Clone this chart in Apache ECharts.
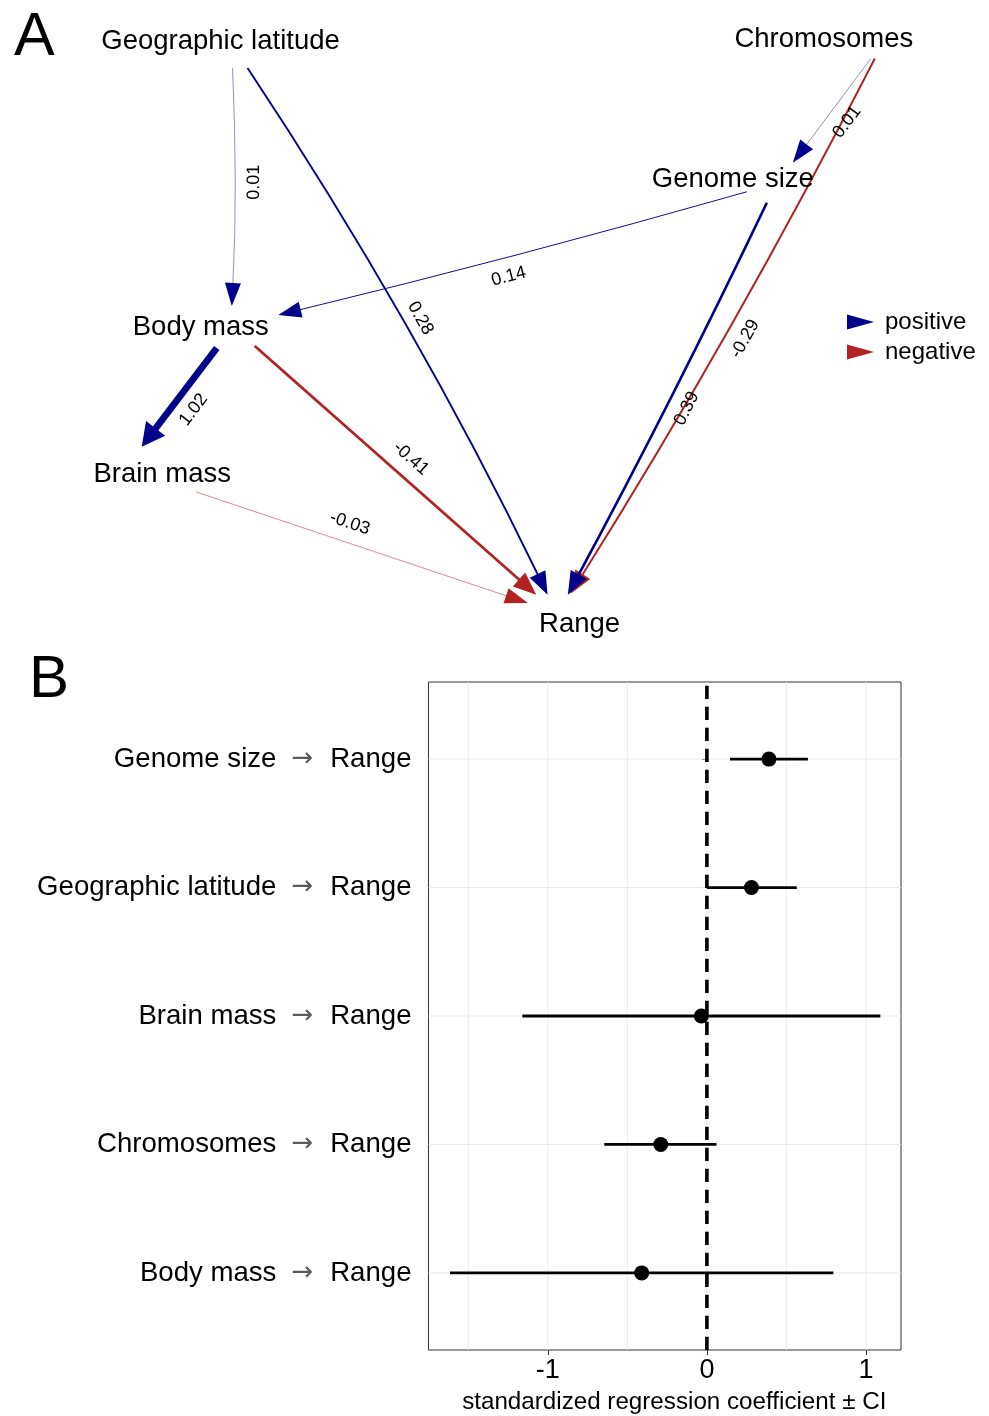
<!DOCTYPE html>
<html><head><meta charset="utf-8">
<script src="https://cdn.jsdelivr.net/npm/echarts@6/dist/echarts.min.js"></script>
<style>html,body{margin:0;padding:0;background:#fff}#c{width:989px;height:1416px}</style>
</head><body><div id="c"></div>
<script>
// ---------- Panel A data ----------
const nodeNames = ['Geographic latitude', 'Chromosomes', 'Genome size', 'Body mass', 'Brain mass', 'Range'];
const edgeFrom = [0, 0, 1, 1, 2, 2, 3, 3, 4];
const edgeTo = [3, 5, 2, 5, 3, 5, 4, 5, 5];
const edgeWeight = [0.01, 0.28, 0.01, -0.29, 0.14, 0.39, 1.02, -0.41, -0.03];
const legendNames = ['positive', 'negative'];

// ---------- Panel B data ----------
const pathSources = ['Genome size', 'Geographic latitude', 'Brain mass', 'Chromosomes', 'Body mass'];
const pathTarget = 'Range';
const estimate = [0.39, 0.28, -0.035, -0.29, -0.41];
const ciLow = [0.145, 0.0, -1.16, -0.645, -1.615];
const ciHigh = [0.635, 0.565, 1.09, 0.06, 0.795];
const xTickValues = [-1, 0, 1];
const xGridValues = [-1.5, -1, -0.5, 0, 0.5, 1];
const yTickValues = [1, 2, 3, 4, 5];

// ---------- layout / style (not data) ----------
// node layout in abstract layout units (0..100 each way, y up)
const nodeLayout = [[22.3, 93.9], [83.3, 94.3], [74.1, 72.3], [20.3, 49.3], [16.4, 26.3], [58.6, 2.9]];
// edge attachment offsets (px, from the node label centre), bend ratio, label position
const edgeStyle = [
  {from: [12, 29], to: [31, -18.5], bend: 0.012, t: 0.48},
  {from: [27, 29], to: [-32, -26.7], bend: 0.017, t: 0.5, off: 16},
  {from: [47, 22], to: [60, -14.5], bend: 0, t: 0.5},
  {from: [51, 22], to: [-9, -27.7], bend: 0.011, t: 0.5},
  {from: [14, 14.5], to: [77.5, -9.5], bend: 0.005, t: 0.52},
  {from: [34, 25.5], to: [-11.7, -26.7], bend: 0.006, t: 0.5},
  {from: [16, 23.5], to: [-20.5, -25], bend: 0, t: 0.51},
  {from: [54, 21.5], to: [-43.3, -26.7], bend: 0, t: 0.51},
  {from: [34, 20.3], to: [-51.7, -18.4], bend: 0, t: 0.445}
];
const BLUE = '#00008B', RED = '#B22222';
const FONT = '"Liberation Sans", Arial, Helvetica, sans-serif';
const maxW = Math.max.apply(null, edgeWeight.map(Math.abs));

function edgeRender(params, api) {
  const i = api.value(4);
  const a = api.coord([api.value(0), api.value(1)]);
  const b = api.coord([api.value(2), api.value(3)]);
  const st = edgeStyle[i];
  const S = [a[0] + st.from[0], a[1] + st.from[1]];
  const T = [b[0] + st.to[0], b[1] + st.to[1]];
  const dx = T[0] - S[0], dy = T[1] - S[1];
  const len = Math.hypot(dx, dy);
  const nx = dy / len, ny = -dx / len;
  const bulge = st.bend * len;
  const C = [(S[0] + T[0]) / 2 + nx * 2 * bulge, (S[1] + T[1]) / 2 + ny * 2 * bulge];
  let tx = T[0] - C[0], ty = T[1] - C[1];
  const tl = Math.hypot(tx, ty); tx /= tl; ty /= tl;
  const w = edgeWeight[i], aw = Math.abs(w);
  const lw = Math.max(0.8, 6.9 * aw / maxW);
  const aLen = 23, aHalf = 7.5 + 0.65 * lw;
  const Bx = T[0] - tx * aLen, By = T[1] - ty * aLen;
  const Lx = T[0] - tx * (aLen - 3), Ly = T[1] - ty * (aLen - 3);
  const color = w > 0 ? BLUE : RED;
  const alpha = Math.min(1, 0.5 + aw * 5);
  const t = st.t, u = 1 - t;
  const Px = u * u * S[0] + 2 * u * t * C[0] + t * t * T[0];
  const Py = u * u * S[1] + 2 * u * t * C[1] + t * t * T[1];
  let gx = 2 * u * (C[0] - S[0]) + 2 * t * (T[0] - C[0]);
  let gy = 2 * u * (C[1] - S[1]) + 2 * t * (T[1] - C[1]);
  const gl = Math.hypot(gx, gy); gx /= gl; gy /= gl;
  const off = st.off != null ? st.off : 19;
  const lx = Px + gy * off, ly = Py - gx * off;
  let ang = Math.atan2(-gy, gx);
  if (ang > Math.PI / 2) ang -= Math.PI;
  if (ang < -Math.PI / 2) ang += Math.PI;
  return {type: 'group', children: [
    {type: 'bezierCurve', shape: {x1: S[0], y1: S[1], x2: Lx, y2: Ly, cpx1: C[0], cpy1: C[1]},
      style: {stroke: color, lineWidth: lw, fill: 'none', opacity: alpha}},
    {type: 'polygon', shape: {points: [[T[0], T[1]], [Bx - ty * aHalf, By + tx * aHalf], [Bx + ty * aHalf, By - tx * aHalf]]},
      style: {fill: color}},
    {type: 'text', x: lx, y: ly, rotation: ang,
      style: {text: w.toFixed(2), fill: '#000', fontSize: 18, fontFamily: FONT, align: 'center', verticalAlign: 'middle'}}
  ]};
}

function edgeData(sign) {
  const out = [];
  edgeWeight.forEach(function (w, i) {
    if ((w > 0) === (sign > 0)) {
      const f = nodeLayout[edgeFrom[i]], g = nodeLayout[edgeTo[i]];
      out.push([f[0], f[1], g[0], g[1], i]);
    }
  });
  return out;
}

function nodeRender(params, api) {
  const p = api.coord([api.value(0), api.value(1)]);
  return {type: 'text', x: p[0], y: p[1] + 2.5,
    style: {text: nodeNames[api.value(2)], fill: '#000', fontSize: 27.5, fontFamily: FONT, align: 'center', verticalAlign: 'middle'}};
}

function vGridRender(params, api) {
  const a = api.coord([api.value(0), 0.4]);
  const b = api.coord([api.value(0), 5.6]);
  return {type: 'line', shape: {x1: a[0], y1: a[1], x2: b[0], y2: b[1]}, style: {stroke: '#EBEBEB', lineWidth: 1}};
}
function hGridRender(params, api) {
  const a = api.coord([-1.75, api.value(0)]);
  const b = api.coord([1.22, api.value(0)]);
  return {type: 'line', shape: {x1: a[0], y1: a[1], x2: b[0], y2: b[1]}, style: {stroke: '#EBEBEB', lineWidth: 1}};
}
function ciRender(params, api) {
  const a = api.coord([api.value(0), api.value(2)]);
  const b = api.coord([api.value(1), api.value(2)]);
  return {type: 'line', shape: {x1: a[0], y1: a[1], x2: b[0], y2: b[1]}, style: {stroke: '#000', lineWidth: 2.8}};
}
function zeroRender(params, api) {
  const a = api.coord([api.value(0), 5.6]);
  const b = api.coord([api.value(0), 0.4]);
  return {type: 'line', shape: {x1: a[0], y1: a[1], x2: b[0], y2: b[1]},
    style: {stroke: '#000', lineWidth: 3.6, lineDash: [13.3, 7.7]}};
}

const chart = echarts.init(document.getElementById('c'), null, {renderer: 'canvas'});
const option = {
  animation: false,
  backgroundColor: '#fff',
  textStyle: {fontFamily: FONT},
  graphic: [
    {type: 'text', x: 14, y: 38, style: {text: 'A', fontSize: 61, fontFamily: FONT, fill: '#000', verticalAlign: 'middle'}},
    {type: 'text', x: 29, y: 680, style: {text: 'B', fontSize: 60, fontFamily: FONT, fill: '#000', verticalAlign: 'middle'}}
  ],
  legend: {
    data: legendNames.map(function (n) { return {name: n, icon: 'path://M0,0L27,7.5L0,15Z'}; }),
    orient: 'vertical', left: 847, top: 310, padding: 0,
    itemWidth: 27, itemHeight: 15, itemGap: 6, selectedMode: false,
    textStyle: {fontSize: 24, color: '#000', fontFamily: FONT, lineHeight: 24, padding: [0, 0, 0, 6]}
  },
  grid: [
    {left: 428.5, top: 682, width: 472.5, height: 668, show: true, borderColor: '#333', borderWidth: 1, backgroundColor: 'transparent'},
    {left: 0, top: 0, width: 989, height: 640, show: false}
  ],
  xAxis: [
    {gridIndex: 0, type: 'value', min: -1.75, max: 1.22,
      axisLine: {show: false}, splitLine: {show: false},
      axisTick: {show: true, customValues: xTickValues, length: 5, lineStyle: {color: '#333'}},
      axisLabel: {customValues: xTickValues, fontSize: 27, color: '#000', margin: 7, fontFamily: FONT},
      name: 'standardized regression coefficient ± CI', nameLocation: 'middle', nameGap: 40,
      nameTextStyle: {fontSize: 24.2, color: '#000', fontFamily: FONT, padding: [0, 0, 0, 19]}},
    {gridIndex: 1, type: 'value', min: 0, max: 100, show: false}
  ],
  yAxis: [
    {gridIndex: 0, type: 'value', min: 0.4, max: 5.6, inverse: true,
      axisLine: {show: false}, splitLine: {show: false},
      axisTick: {show: true, customValues: yTickValues, length: 5, lineStyle: {color: '#333'}},
      axisLabel: {customValues: yTickValues, margin: 17,
        formatter: function (v) { return '{n|' + pathSources[Math.round(v) - 1] + '}{ar|→}{n|' + pathTarget + '}'; },
        rich: {
          n: {fontSize: 27.6, color: '#000', fontFamily: FONT},
          ar: {fontSize: 26, color: '#5a5a5a', fontFamily: '"DejaVu Sans", sans-serif', padding: [0, 17, 0, 15]}
        }}},
    {gridIndex: 1, type: 'value', min: 0, max: 100, show: false}
  ],
  series: [
    {type: 'custom', name: 'vgrid', xAxisIndex: 0, yAxisIndex: 0, z: 1, silent: true,
      data: xGridValues.map(function (v) { return [v, 3]; }), encode: {x: 0, y: 1}, renderItem: vGridRender},
    {type: 'custom', name: 'hgrid', xAxisIndex: 0, yAxisIndex: 0, z: 1, silent: true,
      data: yTickValues.map(function (v) { return [v, 0]; }), encode: {y: 0, x: 1}, renderItem: hGridRender},
    {type: 'custom', name: 'ci', xAxisIndex: 0, yAxisIndex: 0, z: 2, silent: true,
      data: estimate.map(function (e, i) { return [ciLow[i], ciHigh[i], i + 1]; }), encode: {x: [0, 1], y: 2}, renderItem: ciRender},
    {type: 'scatter', name: 'estimate', xAxisIndex: 0, yAxisIndex: 0, z: 3, symbolSize: 15, silent: true,
      itemStyle: {color: '#000', opacity: 1},
      data: estimate.map(function (e, i) { return [e, i + 1]; })},
    {type: 'custom', name: 'zero', xAxisIndex: 0, yAxisIndex: 0, z: 4, silent: true,
      data: [[0, 3]], encode: {x: 0, y: 1}, renderItem: zeroRender},
    {type: 'custom', name: 'negative', xAxisIndex: 1, yAxisIndex: 1, z: 2, silent: true, clip: false,
      color: RED, itemStyle: {color: RED},
      data: edgeData(-1), encode: {x: [0, 2], y: [1, 3]}, renderItem: edgeRender},
    {type: 'custom', name: 'positive', xAxisIndex: 1, yAxisIndex: 1, z: 3, silent: true, clip: false,
      color: BLUE, itemStyle: {color: BLUE},
      data: edgeData(1), encode: {x: [0, 2], y: [1, 3]}, renderItem: edgeRender},
    {type: 'custom', name: 'nodes', xAxisIndex: 1, yAxisIndex: 1, z: 5, silent: true, clip: false,
      data: nodeLayout.map(function (p, i) { return [p[0], p[1], i]; }), encode: {x: 0, y: 1}, renderItem: nodeRender}
  ]
};
chart.setOption(option);
</script>
</body></html>
